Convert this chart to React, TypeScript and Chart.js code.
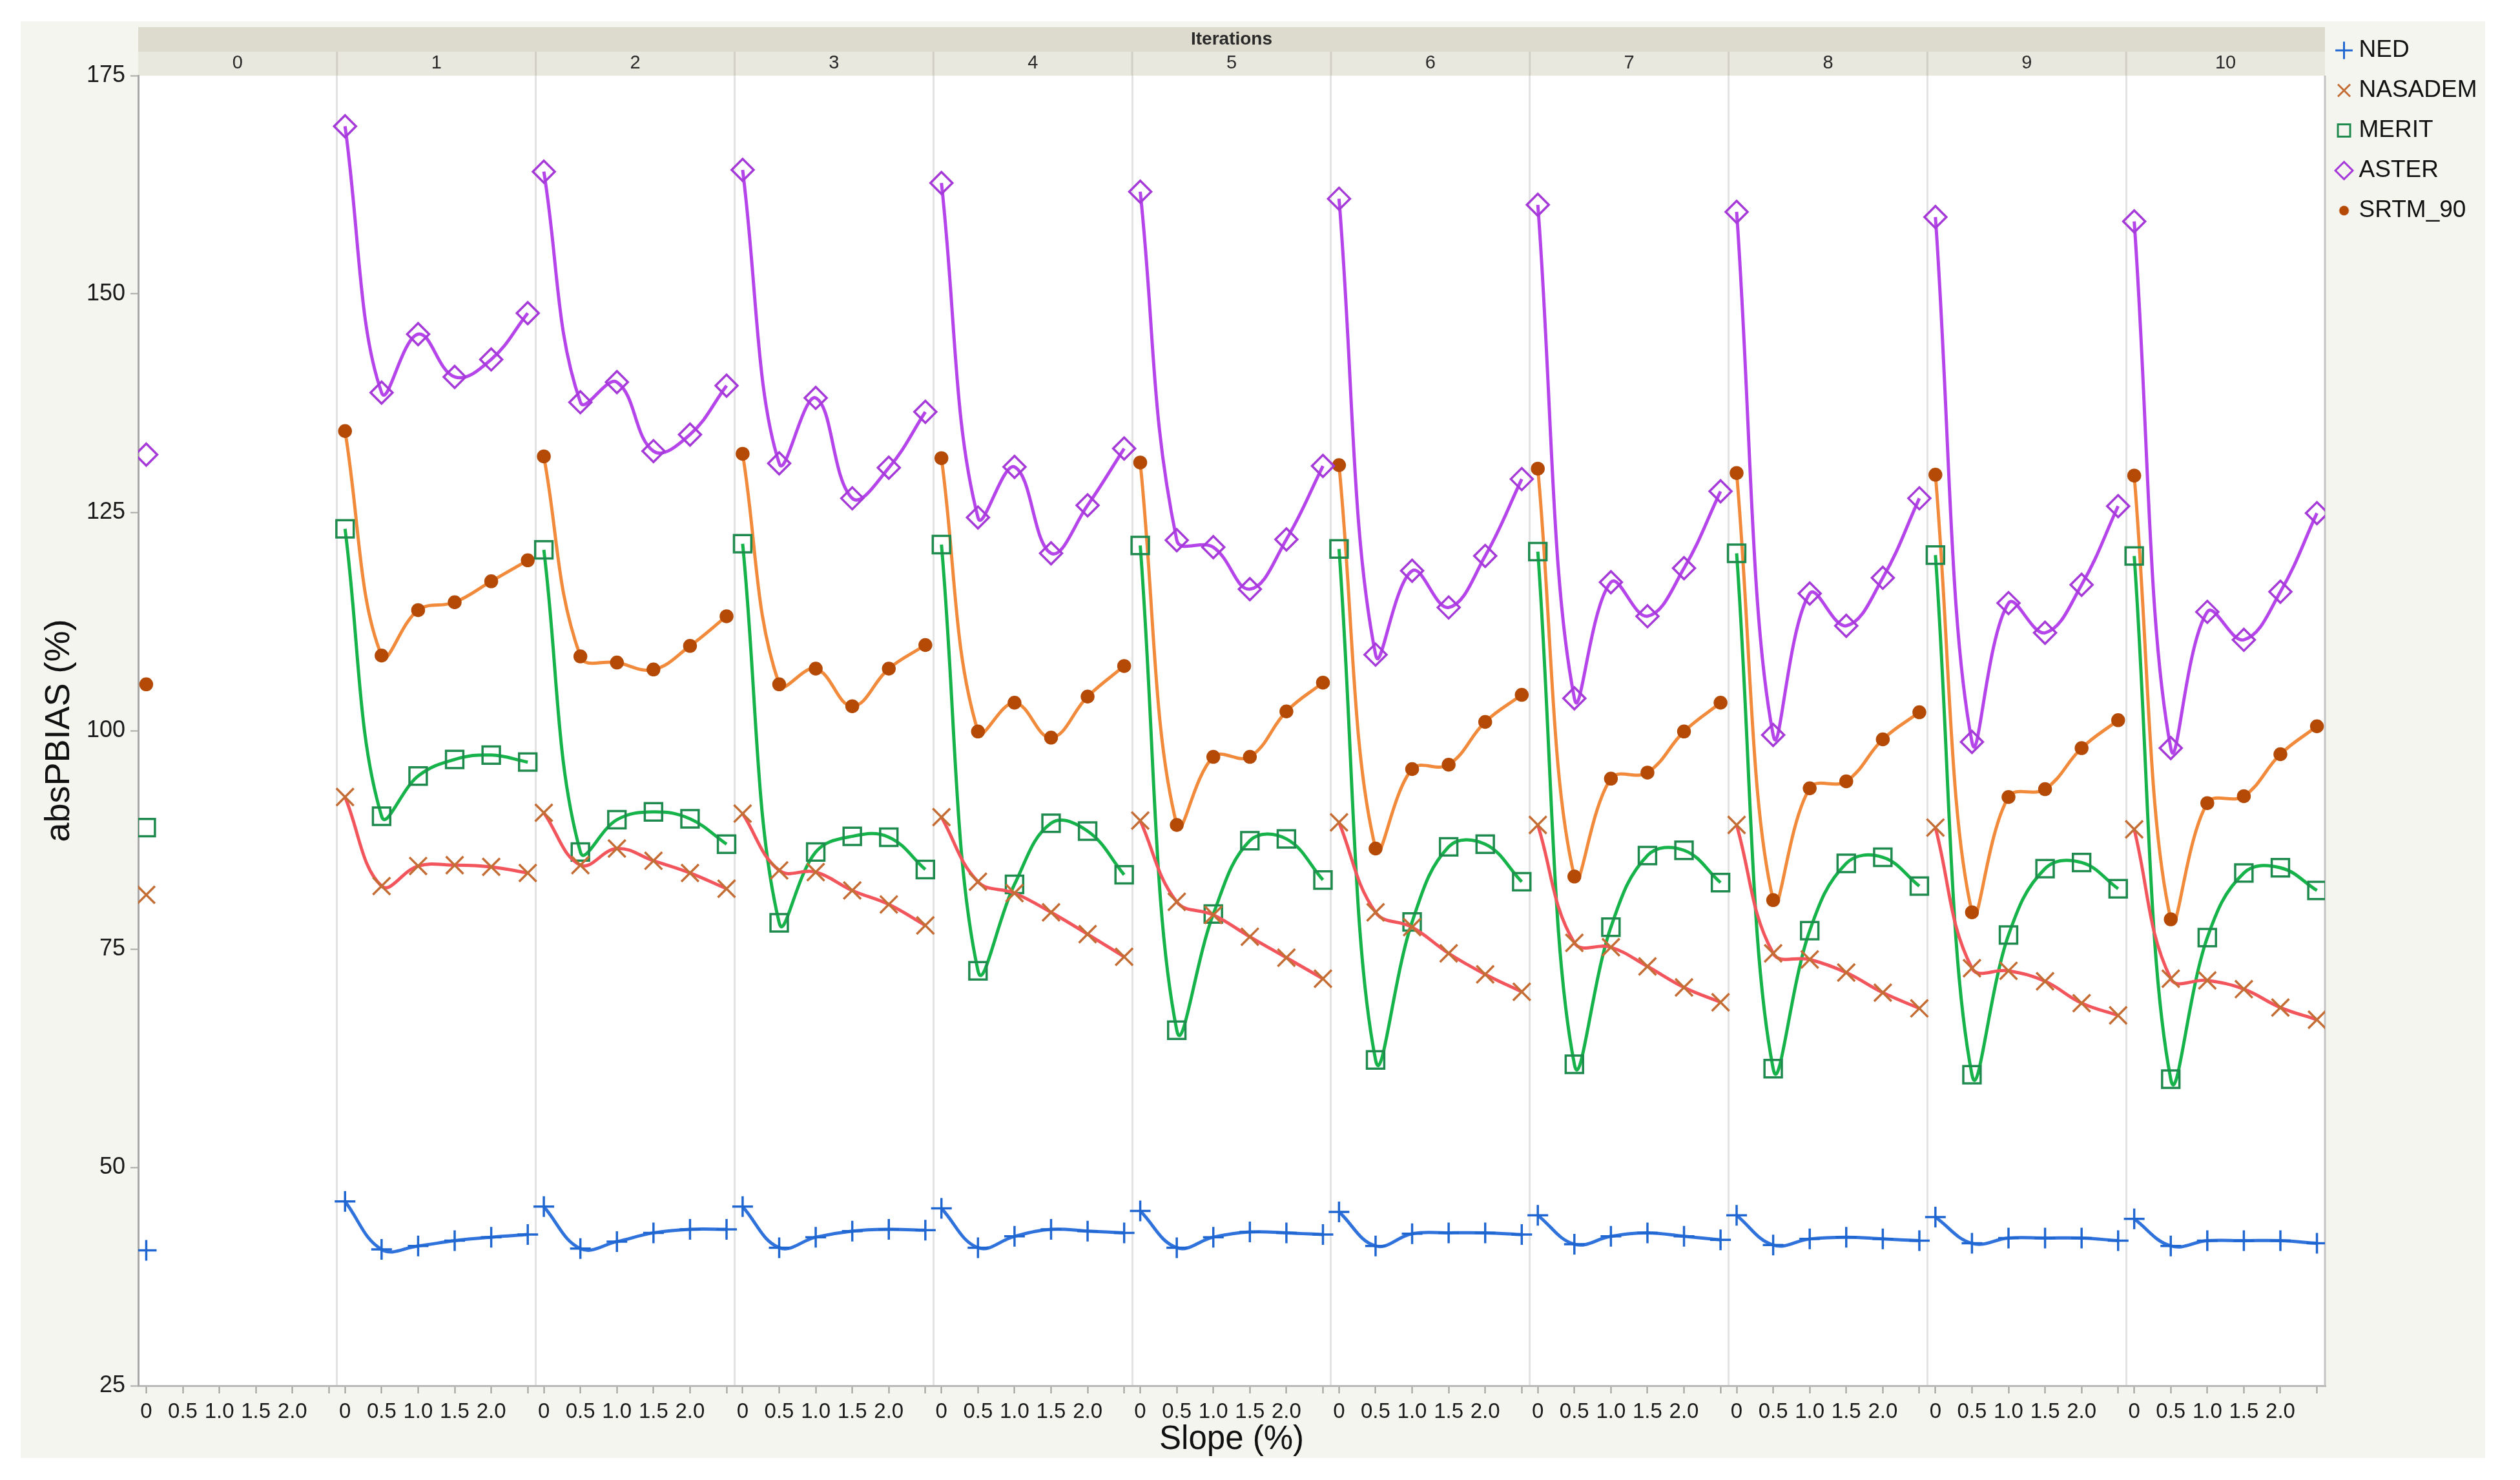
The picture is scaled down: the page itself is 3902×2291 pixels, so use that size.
import React, { useEffect, useRef } from "react";
import { Chart, registerables } from "chart.js";

Chart.register(...registerables);

// ---------------- data ----------------
const iterations = ["0", "1", "2", "3", "4", "5", "6", "7", "8", "9", "10"];
const slopes = [0, 0.5, 1.0, 1.5, 2.0, 2.5];
const slopeTickLabels = ["0", "0.5", "1.0", "1.5", "2.0", ""];
const yTicks = [25, 50, 75, 100, 125, 150, 175];
const seriesNames = ["NED", "NASADEM", "MERIT", "ASTER", "SRTM_90"];

const nedValues = [
  [40.5],
  [46.1, 40.6, 41.0, 41.6, 42.0, 42.3],
  [45.5, 40.7, 41.5, 42.5, 42.9, 42.9],
  [45.5, 40.8, 42.0, 42.7, 42.9, 42.8],
  [45.3, 40.8, 42.1, 42.9, 42.7, 42.5],
  [45.0, 40.8, 42.0, 42.6, 42.5, 42.3],
  [44.9, 41.0, 42.4, 42.5, 42.5, 42.3],
  [44.5, 41.2, 42.1, 42.5, 42.1, 41.7],
  [44.5, 41.1, 41.8, 42.0, 41.8, 41.6],
  [44.3, 41.3, 41.9, 41.9, 41.9, 41.6],
  [44.1, 41.0, 41.6, 41.6, 41.6, 41.3],
];

const nasademValues = [
  [81.2],
  [92.4, 82.2, 84.5, 84.6, 84.4, 83.7],
  [90.6, 84.6, 86.5, 85.1, 83.7, 81.9],
  [90.5, 84.0, 83.8, 81.7, 80.1, 77.7],
  [90.1, 82.7, 81.4, 79.2, 76.7, 74.1],
  [89.7, 80.4, 78.9, 76.4, 74.0, 71.6],
  [89.5, 79.2, 77.5, 74.5, 72.1, 70.1],
  [89.2, 75.7, 75.2, 73.0, 70.6, 68.9],
  [89.2, 74.5, 73.8, 72.3, 70.0, 68.2],
  [88.9, 72.8, 72.5, 71.3, 68.8, 67.4],
  [88.7, 71.6, 71.4, 70.4, 68.3, 66.9],
];

const meritValues = [
  [88.9],
  [123.1, 90.2, 94.8, 96.7, 97.2, 96.4],
  [120.7, 86.1, 89.8, 90.7, 89.9, 87.0],
  [121.4, 78.0, 86.1, 87.9, 87.8, 84.1],
  [121.3, 72.5, 82.4, 89.4, 88.5, 83.5],
  [121.2, 65.7, 79.0, 87.4, 87.6, 82.9],
  [120.8, 62.3, 78.1, 86.7, 87.0, 82.7],
  [120.5, 61.8, 77.5, 85.7, 86.3, 82.6],
  [120.3, 61.3, 77.1, 84.8, 85.5, 82.2],
  [120.1, 60.6, 76.6, 84.2, 84.9, 81.9],
  [120.0, 60.1, 76.3, 83.7, 84.3, 81.7],
];

const asterValues = [
  [131.6],
  [169.2, 138.7, 145.4, 140.5, 142.5, 147.8],
  [164.0, 137.6, 139.9, 132.0, 133.9, 139.5],
  [164.2, 130.6, 138.1, 126.6, 130.1, 136.5],
  [162.7, 124.4, 130.2, 120.3, 125.8, 132.3],
  [161.7, 121.8, 121.0, 116.2, 121.9, 130.3],
  [160.9, 108.7, 118.3, 114.1, 120.0, 128.8],
  [160.2, 103.7, 117.0, 113.1, 118.6, 127.4],
  [159.4, 99.5, 115.7, 112.0, 117.5, 126.6],
  [158.8, 98.7, 114.6, 111.2, 116.7, 125.7],
  [158.3, 98.0, 113.6, 110.4, 115.9, 124.9],
];

const srtmValues = [
  [105.3],
  [134.3, 108.6, 113.8, 114.7, 117.1, 119.5],
  [131.4, 108.5, 107.8, 107.0, 109.7, 113.1],
  [131.7, 105.3, 107.1, 102.8, 107.1, 109.8],
  [131.2, 99.9, 103.2, 99.2, 103.9, 107.4],
  [130.7, 89.2, 97.0, 97.0, 102.2, 105.5],
  [130.4, 86.5, 95.6, 96.1, 101.0, 104.1],
  [130.0, 83.3, 94.5, 95.2, 99.9, 103.2],
  [129.5, 80.6, 93.4, 94.2, 99.0, 102.1],
  [129.3, 79.2, 92.4, 93.3, 98.0, 101.2],
  [129.2, 78.4, 91.7, 92.5, 97.3, 100.5],
];

const seriesValues = [nedValues, nasademValues, meritValues, asterValues, srtmValues];

// ---------------- styles / layout ----------------
const FONT = "'Liberation Sans', Arial, Helvetica, sans-serif";
const PANEL_PAD = 0.11;
const PANEL_WIDTH = 2.5 + 2 * PANEL_PAD;
const X_MIN = -PANEL_PAD;
const X_MAX = iterations.length * PANEL_WIDTH - PANEL_PAD;

const seriesStyles = [
  { line: "#2f72dc", marker: "#1f66d0", fill: "rgba(0,0,0,0)", shape: "cross", radius: 16 },
  { line: "#f2555c", marker: "#c46d35", fill: "rgba(0,0,0,0)", shape: "crossRot", radius: 19 },
  { line: "#16b34a", marker: "#1f8a4d", fill: "rgba(0,0,0,0)", shape: "rect", radius: 19 },
  { line: "#b545ea", marker: "#a53ad8", fill: "rgba(0,0,0,0)", shape: "rectRot", radius: 17 },
  { line: "#f28a3c", marker: "#b44a05", fill: "#b44a05", shape: "circle", radius: 9 },
];

type XTick = { value: number; label: string; boundary: boolean };
const xTickList: XTick[] = [];
iterations.forEach((_, p) => {
  if (p > 0) xTickList.push({ value: p * PANEL_WIDTH - PANEL_PAD, label: "", boundary: true });
  slopes.forEach((s, k) =>
    xTickList.push({ value: p * PANEL_WIDTH + s, label: slopeTickLabels[k], boundary: false })
  );
});

function buildDatasets() {
  const ds: any[] = [];
  seriesNames.forEach((name, si) => {
    const st = seriesStyles[si];
    seriesValues[si].forEach((panelVals, p) => {
      ds.push({
        label: name,
        data: panelVals.map((v, k) => ({ x: p * PANEL_WIDTH + slopes[k], y: v })),
        borderColor: st.line,
        backgroundColor: "rgba(0,0,0,0)",
        borderWidth: 5,
        tension: 0.4,
        fill: false,
        pointStyle: st.shape,
        pointRadius: st.radius,
        pointBorderColor: st.marker,
        pointBackgroundColor: st.fill,
        pointBorderWidth: 3.5,
        xAxisID: "x",
        yAxisID: "y",
      });
    });
  });
  return ds;
}

const facetPlugin = {
  id: "facetBackground",
  beforeDraw(chart: any) {
    const { ctx, chartArea, scales } = chart;
    const { left, right, top, bottom } = chartArea;
    ctx.save();
    ctx.fillStyle = "#ffffff";
    ctx.fillRect(0, 0, chart.width, chart.height);
    ctx.fillStyle = "#f5f5f0";
    ctx.fillRect(32, 33, 3848 - 32, 2257 - 33);
    ctx.fillStyle = "#ffffff";
    ctx.fillRect(left, top, right - left, bottom - top);
    ctx.fillStyle = "#dddbcd";
    ctx.fillRect(left, top - 75, right - left, 38);
    ctx.fillStyle = "#e9e8de";
    ctx.fillRect(left, top - 37, right - left, 37);
    ctx.strokeStyle = "#d2d0c4";
    ctx.lineWidth = 3;
    const xs = scales.x;
    for (let p = 1; p < iterations.length; p++) {
      const px = xs.getPixelForValue(p * PANEL_WIDTH - PANEL_PAD);
      ctx.beginPath();
      ctx.moveTo(px, top - 37);
      ctx.lineTo(px, top);
      ctx.stroke();
    }
    ctx.restore();
  },
  beforeDatasetsDraw(chart: any) {
    const { ctx, chartArea } = chart;
    ctx.save();
    ctx.strokeStyle = "#c4c4c4";
    ctx.lineWidth = 3;
    ctx.beginPath();
    ctx.moveTo(chartArea.right, chartArea.top);
    ctx.lineTo(chartArea.right, chartArea.bottom);
    ctx.stroke();
    ctx.restore();
  },
};

export default function App() {
  const canvasRef = useRef<HTMLCanvasElement>(null);

  useEffect(() => {
    const canvas = canvasRef.current;
    if (!canvas) return;
    Chart.defaults.font.family = FONT;

    const dot = document.createElement("canvas");
    dot.width = 18;
    dot.height = 18;
    const dctx = dot.getContext("2d");
    if (dctx) {
      dctx.fillStyle = seriesStyles[4].marker;
      dctx.beginPath();
      dctx.arc(9, 9, 7.5, 0, Math.PI * 2);
      dctx.fill();
    }

    const chart = new Chart(canvas, {
      type: "line",
      data: { datasets: buildDatasets() },
      plugins: [facetPlugin],
      options: {
        responsive: false,
        animation: false,
        devicePixelRatio: 1,
        events: [],
        layout: { padding: { left: 40, right: 56.5, top: 34.5, bottom: 26 } },
        plugins: {
          tooltip: { enabled: false },
          legend: {
            position: "right",
            align: "start",
            labels: {
              usePointStyle: true,
              boxWidth: 9,
              boxHeight: 19,
              padding: 25,
              color: "#111111",
              font: { size: 37, family: FONT },
              generateLabels: () =>
                seriesNames.map((name, i) => ({
                  text: name,
                  datasetIndex: i * iterations.length,
                  pointStyle: i === 4 ? dot : seriesStyles[i].shape,
                  strokeStyle: seriesStyles[i].marker,
                  fillStyle: seriesStyles[i].fill,
                  lineWidth: 3,
                  hidden: false,
                  fontColor: "#111111",
                })) as any,
            },
          },
        },
        scales: {
          x: {
            type: "linear",
            position: "bottom",
            min: X_MIN,
            max: X_MAX,
            afterBuildTicks: (scale: any) => {
              scale.ticks = xTickList.map((t) => ({ value: t.value }));
            },
            afterFit: (scale: any) => {
              scale.height = 120;
            },
            ticks: {
              autoSkip: false,
              maxRotation: 0,
              minRotation: 0,
              padding: 9,
              color: "#1a1a1a",
              font: { size: 33, family: FONT },
              callback: (_v: any, i: number) => (xTickList[i] ? xTickList[i].label : ""),
            },
            grid: {
              drawOnChartArea: true,
              color: (c: any) => (xTickList[c.index] && xTickList[c.index].boundary ? "#e3e3e3" : "rgba(0,0,0,0)"),
              lineWidth: 3,
              tickLength: 12,
              tickWidth: 2,
              tickColor: (c: any) => (xTickList[c.index] && xTickList[c.index].boundary ? "rgba(0,0,0,0)" : "#9a9a9a"),
            },
            border: { display: true, color: "#b8b8b8", width: 3 },
            title: {
              display: true,
              text: "Slope (%)",
              color: "#111111",
              font: { size: 51, family: FONT },
              padding: { top: 0, bottom: 5 },
            },
          },
          x2: {
            type: "linear",
            position: "top",
            min: X_MIN,
            max: X_MAX,
            afterBuildTicks: (scale: any) => {
              scale.ticks = iterations.map((_, p) => ({ value: p * PANEL_WIDTH + 1.25 }));
            },
            afterFit: (scale: any) => {
              scale.height = 82.5;
            },
            ticks: {
              autoSkip: false,
              maxRotation: 0,
              minRotation: 0,
              padding: 2,
              color: "#2a2a2a",
              font: { size: 29, family: FONT },
              callback: (_v: any, i: number) => iterations[i],
            },
            grid: { display: false, drawTicks: false, drawOnChartArea: false },
            border: { display: false },
            title: {
              display: true,
              text: "Iterations",
              color: "#2a2a2a",
              font: { size: 28, weight: "bold", family: FONT },
              padding: { top: 10, bottom: 0 },
            },
          },
          y: {
            type: "linear",
            min: 25,
            max: 175,
            afterBuildTicks: (scale: any) => {
              scale.ticks = yTicks.map((v) => ({ value: v }));
            },
            afterFit: (scale: any) => {
              scale.width = 174;
            },
            ticks: {
              padding: 8,
              color: "#1a1a1a",
              font: { size: 36, family: FONT },
            },
            grid: {
              drawOnChartArea: false,
              tickLength: 12,
              tickWidth: 2,
              tickColor: "#a8a8a8",
            },
            border: { display: true, color: "#a8a8a8", width: 3 },
            title: {
              display: true,
              text: "absPBIAS (%)",
              color: "#111111",
              font: { size: 54, family: FONT },
              padding: { top: 20, bottom: 0 },
            },
          },
        },
      } as any,
    });

    return () => chart.destroy();
  }, []);

  return (
    <div style={{ position: "fixed", left: 0, top: 0, width: 3902, height: 2291, background: "#ffffff" }}>
      <canvas ref={canvasRef} width={3902} height={2291} style={{ display: "block", width: 3902, height: 2291 }} />
    </div>
  );
}
